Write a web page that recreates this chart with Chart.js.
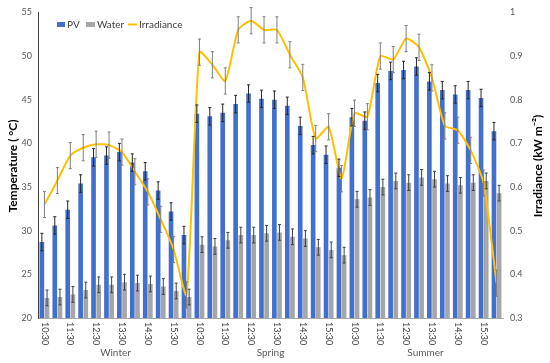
<!DOCTYPE html>
<html lang="en">
<head>
<meta charset="UTF-8">
<title>PV, water temperature and irradiance</title>
<script src="https://cdn.jsdelivr.net/npm/chart.js"></script>
<style>
  body { margin: 0; background: #fff; }
  .wrap { width: 550px; height: 363px; }
</style>
</head>
<body>
<div class="wrap"><canvas id="chart"></canvas></div>
<script>
// Data
const seasons = ['Winter', 'Spring', 'Summer'];
const timeLabels = ['10:30', '11:00', '11:30', '12:00', '12:30', '13:00', '13:30', '14:00', '14:30', '15:00', '15:30', '16:00'];

const pvWinter = [28.7, 30.6, 32.4, 35.4, 38.4, 38.6, 39.0, 37.8, 36.8, 34.6, 32.2, 29.5];
const pvSpring = [43.4, 43.1, 43.5, 44.5, 45.7, 45.1, 45.0, 44.3, 42.0, 39.8, 38.7, 37.2];
const pvSummer = [43.0, 42.6, 46.9, 48.3, 48.4, 48.8, 47.1, 46.1, 45.6, 46.1, 45.2, 41.4];

const waterWinter = [22.3, 22.4, 22.7, 23.2, 23.8, 23.8, 24.1, 24.0, 23.9, 23.6, 23.1, 22.4];
const waterSpring = [28.4, 28.2, 28.9, 29.5, 29.5, 29.7, 29.8, 29.3, 29.1, 28.1, 27.8, 27.2];
const waterSummer = [33.6, 33.8, 35.0, 35.7, 35.5, 36.1, 35.9, 35.4, 35.2, 35.5, 35.7, 34.3];

const irrWinter = [0.56, 0.615, 0.672, 0.69, 0.698, 0.696, 0.68, 0.635, 0.589, 0.526, 0.457, 0.353];
const irrSpring = [0.909, 0.88, 0.843, 0.96, 0.981, 0.96, 0.96, 0.903, 0.851, 0.711, 0.738, 0.619];
const irrSummer = [0.769, 0.761, 0.9, 0.892, 0.94, 0.92, 0.85, 0.74, 0.73, 0.684, 0.609, 0.38];

// error bar half-widths
const pvErr = [1.0, 1.0, 1.0, 1.0, 1.0, 1.0, 1.0, 1.0, 1.0, 1.0, 1.0, 1.0,
               1.0, 1.0, 1.0, 1.0, 1.0, 1.0, 1.0, 1.0, 1.0, 1.0, 1.0, 1.0,
               1.0, 1.0, 1.0, 1.0, 1.0, 1.0, 1.0, 1.0, 1.0, 1.0, 1.0, 1.0];
const waterErr = [0.9, 0.9, 0.9, 0.9, 0.9, 0.9, 0.9, 0.9, 0.9, 0.9, 0.9, 0.9,
                  0.9, 0.9, 0.9, 0.9, 0.9, 0.9, 0.9, 0.9, 0.9, 0.9, 0.9, 0.9,
                  0.9, 0.9, 0.9, 0.9, 0.9, 0.9, 0.9, 0.9, 0.9, 0.9, 0.9, 0.9];
const irrErr = [0.03, 0.03, 0.03, 0.03, 0.03, 0.03, 0.03, 0.03, 0.03, 0.03, 0.03, 0.03,
                0.03, 0.03, 0.03, 0.03, 0.03, 0.03, 0.03, 0.03, 0.03, 0.03, 0.03, 0.03,
                0.03, 0.03, 0.03, 0.03, 0.03, 0.03, 0.03, 0.03, 0.03, 0.03, 0.03, 0.03];

const labels = seasons.flatMap(s => timeLabels.map(t => s + ' ' + t));
const pv = [...pvWinter, ...pvSpring, ...pvSummer];
const water = [...waterWinter, ...waterSpring, ...waterSummer];
const irr = [...irrWinter, ...irrSpring, ...irrSummer];

const FONT = 'Lato, "Open Sans", sans-serif';

// error bars, rotated time labels, season names, titles and legend
const extras = {
  id: 'extras',
  afterDatasetsDraw(chart) {
    const ctx = chart.ctx;
    const y = chart.scales.y, y1 = chart.scales.y1;
    const drawErr = (metaIdx, vals, errs, scale, color) => {
      const meta = chart.getDatasetMeta(metaIdx);
      ctx.strokeStyle = color;
      ctx.lineWidth = 1;
      meta.data.forEach((el, i) => {
        const top = scale.getPixelForValue(vals[i] + errs[i]);
        const bot = scale.getPixelForValue(vals[i] - errs[i]);
        ctx.beginPath();
        ctx.moveTo(el.x, top); ctx.lineTo(el.x, bot);
        ctx.moveTo(el.x - 1.5, top); ctx.lineTo(el.x + 1.5, top);
        ctx.moveTo(el.x - 1.5, bot); ctx.lineTo(el.x + 1.5, bot);
        ctx.stroke();
      });
    };
    ctx.save();
    drawErr(1, pv, pvErr, y, '#262626');
    drawErr(2, water, waterErr, y, '#404040');
    drawErr(0, irr, irrErr, y1, '#7f7f7f');
    ctx.restore();
  },
  afterDraw(chart) {
    const { ctx, chartArea, scales: { x } } = chart;
    ctx.save();
    // time labels, every second one, reading top to bottom
    ctx.font = '9px ' + FONT;
    ctx.fillStyle = '#404040';
    ctx.textAlign = 'left';
    ctx.textBaseline = 'middle';
    labels.forEach((l, i) => {
      if (i % 2) return;
      ctx.save();
      ctx.translate(x.getPixelForValue(i), chartArea.bottom + 4);
      ctx.rotate(Math.PI / 2);
      ctx.fillText(timeLabels[i % timeLabels.length], 0, 0);
      ctx.restore();
    });
    // season names
    ctx.font = '10px ' + FONT;
    ctx.fillStyle = '#595959';
    ctx.textAlign = 'center';
    seasons.forEach((s, k) => {
      const a = x.getPixelForValue(k * 12), b = x.getPixelForValue(k * 12 + 11);
      ctx.fillText(s, (a + b) / 2, 353);
    });
    // axis titles
    ctx.font = 'bold 12px ' + FONT;
    ctx.fillStyle = '#000';
    ctx.save();
    ctx.translate(13, 166);
    ctx.rotate(-Math.PI / 2);
    ctx.fillText('Temperature ( °C)', 0, 0);
    ctx.restore();
    ctx.save();
    ctx.translate(538, 166);
    ctx.rotate(-Math.PI / 2);
    ctx.fillText('Irradiance (kW m⁻²)', 0, 0);
    ctx.restore();
    // legend
    ctx.font = '10px ' + FONT;
    ctx.fillStyle = '#4170CF';
    ctx.fillRect(57, 22, 8, 5);
    ctx.fillStyle = '#A6A6A6';
    ctx.fillRect(86, 22, 9, 5);
    ctx.strokeStyle = '#FFC000';
    ctx.lineWidth = 2;
    ctx.beginPath(); ctx.moveTo(128, 24.5); ctx.lineTo(137, 24.5); ctx.stroke();
    ctx.fillStyle = '#404040';
    ctx.textAlign = 'left';
    ctx.fillText('PV', 67, 25);
    ctx.fillText('Water', 97, 25);
    ctx.fillText('Irradiance', 139, 25);
    ctx.restore();
  }
};

new Chart(document.getElementById('chart'), {
  type: 'bar',
  data: {
    labels: labels,
    datasets: [
      {
        type: 'line',
        label: 'Irradiance',
        data: irr,
        yAxisID: 'y1',
        borderColor: '#FFC000',
        borderWidth: 2,
        pointRadius: 0,
        tension: 0.2,
        order: 0
      },
      {
        label: 'PV',
        data: pv,
        yAxisID: 'y',
        backgroundColor: '#4170CF',
        barPercentage: 0.9,
        categoryPercentage: 0.8,
        order: 1
      },
      {
        label: 'Water',
        data: water,
        yAxisID: 'y',
        backgroundColor: '#A6A6A6',
        barPercentage: 0.9,
        categoryPercentage: 0.8,
        order: 1
      }
    ]
  },
  options: {
    responsive: true,
    maintainAspectRatio: false,
    animation: false,
    layout: { padding: { top: 12 } },
    plugins: {
      legend: { display: false },
      tooltip: { enabled: false }
    },
    scales: {
      x: {
        offset: true,
        grid: { display: false, drawTicks: false },
        ticks: { display: false },
        border: { color: '#a6a6a6' },
        afterFit(s) { s.height = 45; }
      },
      y: {
        position: 'left',
        min: 20,
        max: 55,
        ticks: { stepSize: 5, padding: 6, color: '#595959', font: { size: 9, family: FONT } },
        grid: { display: false, drawTicks: false },
        border: { display: true, color: '#404040' },
        afterFit(s) { s.width = 38; }
      },
      y1: {
        position: 'right',
        min: 0.3,
        max: 1,
        ticks: {
          stepSize: 0.1, padding: 7, color: '#595959', font: { size: 9, family: FONT },
          callback: v => String(Number(v.toFixed(1)))
        },
        grid: { display: false, drawTicks: false },
        border: { display: false },
        afterFit(s) { s.width = 47; }
      }
    }
  },
  plugins: [extras]
});
</script>
</body>
</html>
